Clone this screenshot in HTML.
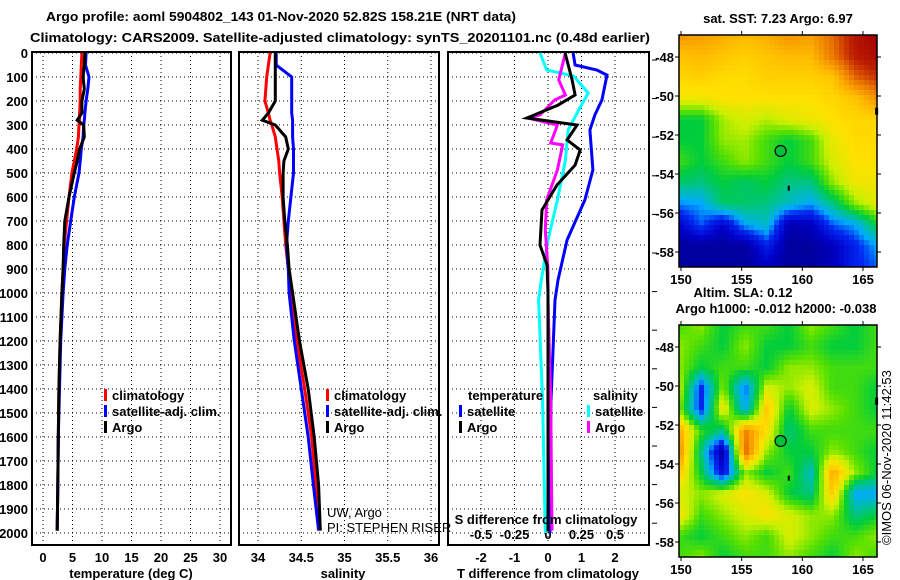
<!DOCTYPE html>
<html><head><meta charset="utf-8">
<style>
html,body{margin:0;padding:0;background:#fff;}
svg{display:block;font-family:"Liberation Sans",Arial,sans-serif;}
.b{font-weight:bold;font-size:13px;}
</style></head>
<body>
<svg id="chart" width="900" height="580" viewBox="0 0 900 580">
<g id="gridL"></g>
<g id="series"></g>
<g id="maps"></g>
<g id="texts">
<text x="46" y="21" class="b" font-size="15" textLength="470" lengthAdjust="spacingAndGlyphs">Argo profile: aoml 5904802_143 01-Nov-2020 52.82S 158.21E (NRT data)</text>
<text x="30" y="42" class="b" font-size="15" textLength="620" lengthAdjust="spacingAndGlyphs">Climatology: CARS2009. Satellite-adjusted climatology: synTS_20201101.nc (0.48d earlier)</text>
<text x="778" y="23" class="b" text-anchor="middle">sat. SST: 7.23 Argo: 6.97</text>
<text x="743" y="297" class="b" text-anchor="middle">Altim. SLA: 0.12</text>
<text x="776" y="313" class="b" text-anchor="middle">Argo h1000: -0.012 h2000: -0.038</text>
<text x="131" y="578" class="b" text-anchor="middle">temperature (deg C)</text>
<text x="343" y="578" class="b" text-anchor="middle">salinity</text>
<text x="548" y="578" class="b" text-anchor="middle">T difference from climatology</text>
<text x="546" y="524" class="b" text-anchor="middle">S difference from climatology</text>
<text x="327" y="517" font-size="13">UW, Argo</text>
<text x="327" y="532" font-size="13">PI: STEPHEN RISER</text>
<text transform="translate(891,545) rotate(-90)" font-size="13">©IMOS 06-Nov-2020 11:42:53</text>
</g>
<g id="legends"></g>
</svg>
<script>
// ---------- data ----------
const depthTicks=[0,100,200,300,400,500,600,700,800,900,1000,1100,1200,1300,1400,1500,1600,1700,1800,1900,2000];
const tempTicks=[0,5,10,15,20,25,30];
const salTicks=[34,34.5,35,35.5,36];
const tdiffTicks=[-2,-1,0,1,2];
const sdiffTicks=[-0.5,-0.25,0,0.25,0.5];
const sdiffLabels=["-0.5","-0.25","0","0.25","0.5"];
const profDepths=[0,50,100,150,200,250,280,300,350,400,450,500,600,700,800,900,1000,1200,1400,1600,1800,1990];
const tempClim=[6.6,6.5,6.4,6.3,6.3,6.2,6.2,6.1,6.0,5.7,5.3,4.9,4.4,4.0,3.6,3.4,3.2,2.9,2.7,2.6,2.5,2.4];
const tempSat=[7.3,7.2,7.8,7.6,7.3,7.1,7.0,6.9,6.8,6.5,6.3,6.1,5.3,4.7,4.1,3.7,3.4,3.0,2.8,2.6,2.5,2.4];
const tempArgo=[7.1,7.0,6.8,7.0,6.6,6.6,5.8,6.9,7.0,6.2,5.8,5.3,4.4,3.7,3.5,3.4,3.2,2.9,2.7,2.6,2.5,2.4];
const salClim=[34.14,34.12,34.1,34.09,34.08,34.12,34.14,34.16,34.2,34.22,34.24,34.25,34.28,34.3,34.32,34.35,34.37,34.45,34.54,34.62,34.67,34.72];
const salSat=[34.21,34.21,34.39,34.39,34.39,34.39,34.4,34.4,34.4,34.41,34.41,34.41,34.38,34.35,34.33,34.35,34.36,34.42,34.5,34.58,34.64,34.7];
const salArgo=[34.2,34.2,34.2,34.2,34.2,34.12,34.05,34.2,34.32,34.35,34.3,34.29,34.29,34.31,34.34,34.36,34.4,34.48,34.58,34.65,34.7,34.72];
const diffDepthsT=[0,112,175,217,271,300,362,404,467,550,654,800,883,1000,1500,1990];
const tdiffArgo=[0.51,0.72,0.81,0.3,-0.63,0.87,0.57,0.96,0.81,0.27,-0.18,-0.24,-0.03,0.0,0.0,0.0];
const diffDepthsTS=[0,50,71,92,196,258,321,487,612,779,946,1030,1450,2000];
const tdiffSat=[0.75,0.81,1.46,1.76,1.61,1.4,1.25,1.34,1.1,0.57,0.3,0.21,0.09,0.06];
const diffDepthsSS=[0,71,96,167,237,321,446,612,779,946,1030,1450,2000];
const sdiffSat=[-0.06,-0.01,0.19,0.3,0.23,0.15,0.13,0.07,0.0,-0.05,-0.07,-0.04,-0.02];
const diffDepthsSA=[0,112,175,196,258,271,300,375,383,487,612,737,904,1030,1450,1990];
const sdiffArgo=[0.13,0.08,0.13,0.05,-0.06,-0.15,0.07,0.02,0.11,0.07,-0.01,-0.02,0.0,0.0,0.02,0.03];
const latTicks=[-48,-50,-52,-54,-56,-58];
const lonTicks=[150,155,160,165];
const sstGrid=[
[0.78,0.76,0.74,0.72,0.74,0.78,0.76,0.84,0.94,1.0],
[0.7,0.72,0.7,0.68,0.7,0.72,0.72,0.82,0.93,0.97],
[0.67,0.68,0.66,0.66,0.68,0.68,0.68,0.7,0.84,0.9],
[0.63,0.63,0.65,0.65,0.65,0.65,0.65,0.67,0.7,0.78],
[0.45,0.45,0.56,0.6,0.57,0.61,0.63,0.65,0.67,0.67],
[0.45,0.45,0.55,0.56,0.5,0.45,0.5,0.62,0.66,0.66],
[0.5,0.45,0.5,0.55,0.5,0.45,0.5,0.6,0.65,0.65],
[0.42,0.4,0.45,0.42,0.45,0.4,0.4,0.55,0.63,0.63],
[0.28,0.3,0.42,0.42,0.4,0.35,0.3,0.4,0.55,0.62],
[0.12,0.25,0.12,0.3,0.35,0.08,0.1,0.25,0.3,0.45],
[0.05,0.05,0.05,0.05,0.2,0.05,0.05,0.1,0.2,0.3],
[0.05,0.05,0.05,0.05,0.1,0.05,0.05,0.1,0.2,0.25]];
const slaGrid=[
[0.5,0.55,0.45,0.5,0.5,0.45,0.55,0.5,0.45,0.5],
[0.55,0.5,0.45,0.55,0.45,0.45,0.5,0.45,0.45,0.5],
[0.55,0.45,0.5,0.5,0.45,0.55,0.55,0.5,0.5,0.5],
[0.6,0.2,0.55,0.25,0.6,0.55,0.6,0.5,0.5,0.45],
[0.55,0.2,0.65,0.3,0.7,0.45,0.6,0.55,0.5,0.45],
[0.75,0.5,0.4,0.8,0.65,0.4,0.5,0.5,0.5,0.5],
[0.8,0.4,0.05,0.85,0.55,0.45,0.45,0.55,0.5,0.45],
[0.7,0.45,0.15,0.55,0.45,0.5,0.35,0.75,0.55,0.45],
[0.6,0.55,0.6,0.65,0.6,0.45,0.4,0.7,0.3,0.3],
[0.65,0.5,0.55,0.6,0.65,0.6,0.55,0.55,0.4,0.45],
[0.5,0.45,0.5,0.55,0.5,0.6,0.55,0.5,0.5,0.55],
[0.5,0.55,0.45,0.5,0.5,0.55,0.5,0.45,0.55,0.5]];
const argoLon=158.21, argoLat=-52.82;

// ---------- scales ----------
const NS="http://www.w3.org/2000/svg";
function mk(tag,attrs,parent){const e=document.createElementNS(NS,tag);for(const k in attrs)e.setAttribute(k,attrs[k]);parent.appendChild(e);return e;}
const yD=d=>53+d*0.24;
const xT=t=>43+t*5.9;
const xS=s=>258+(s-34)*86.5;
const xdT=t=>548+t*33.5;
const xdS=s=>548+s*134;
const PT=52,PB=545;
const panels=[{x0:32,x1:231,ticks:tempTicks,sc:xT,labels:tempTicks.map(String),name:'temperature-panel'},
{x0:239,x1:439,ticks:salTicks,sc:xS,labels:salTicks.map(String),name:'salinity-panel'},
{x0:448,x1:649,ticks:tdiffTicks,sc:xdT,labels:tdiffTicks.map(String),name:'difference-panel'}];
const G=document.getElementById('gridL');
panels.forEach(p=>{
  const g=mk('g',{},G);
  
  
  depthTicks.forEach(d=>{const l=mk('line',{x1:p.x0,x2:p.x1,y1:yD(d),y2:yD(d),stroke:'#000','stroke-width':1,'stroke-dasharray':'1 3'},g);
    });
  p.ticks.forEach((t,i)=>{const x=p.sc(t);
    const l=mk('line',{x1:x,x2:x,y1:PT,y2:PB,stroke:'#000','stroke-width':1,'stroke-dasharray':'1 3'},g);
    
    const tx=mk('text',{x:x,y:562,'text-anchor':'middle',class:'b'},g);tx.textContent=p.labels[i];
    });
  const r=mk('rect',{x:p.x0,y:PT,width:p.x1-p.x0,height:PB-PT,fill:'none',stroke:'#000','stroke-width':2},g);
  
});
depthTicks.forEach(d=>{const t=mk('text',{x:28,y:yD(d)+5,'text-anchor':'end',class:'b'},G);t.textContent=d;
  });
sdiffTicks.forEach((s,i)=>{const t=mk('text',{x:xdS(s),y:539,'text-anchor':'middle',class:'b'},G);t.textContent=sdiffLabels[i];
  });
for(let k=0;k<13;k++){const y=60+k*38.6;const l=mk('line',{x1:652,x2:657,y1:y,y2:y,stroke:'#000','stroke-width':1},G);
  }

// ---------- series ----------
const S=document.getElementById('series');
function line(depths,vals,sc,color,name){
  const pts=depths.map((d,i)=>sc(vals[i]).toFixed(1)+','+yD(d).toFixed(1)).join(' ');
  const p=mk('polyline',{points:pts,fill:'none',stroke:color,'stroke-width':3,'stroke-linejoin':'miter'},S);
  
}
line(profDepths,tempClim,xT,'#ff0000','temp-climatology-line');
line(profDepths,tempSat,xT,'#0000ff','temp-satellite-line');
line(profDepths,tempArgo,xT,'#000000','temp-argo-line');
line(profDepths,salClim,xS,'#ff0000','sal-climatology-line');
line(profDepths,salSat,xS,'#0000ff','sal-satellite-line');
line(profDepths,salArgo,xS,'#000000','sal-argo-line');
line(diffDepthsTS,tdiffSat,xdT,'#0000ff','tdiff-satellite-line');
line(diffDepthsSS,sdiffSat,xdS,'#00ffff','sdiff-satellite-line');
line(diffDepthsSA,sdiffArgo,xdS,'#ff00ff','sdiff-argo-line');
line(diffDepthsT,tdiffArgo,xdT,'#000000','tdiff-argo-line');

// ---------- legends ----------
const L=document.getElementById('legends');
function leg(x,y,color,label,name){
  const g=mk('g',{},L);
  if(color){mk('rect',{x:x,y:y-11,width:3,height:12,fill:color},g);}
  const t=mk('text',{x:x+8,y:y,class:'b'},g);t.textContent=label;
}
leg(104,400,'#ff0000','climatology','legend-entry-climatology');
leg(104,416,'#0000ff','satellite-adj. clim.','legend-entry-satellite');
leg(104,432,'#000000','Argo','legend-entry-argo');
leg(326,400,'#ff0000','climatology','legend-entry-sal-climatology');
leg(326,416,'#0000ff','satellite-adj. clim.','legend-entry-sal-satellite');
leg(326,432,'#000000','Argo','legend-entry-sal-argo');
leg(460,400,null,'temperature','legend-heading-temperature');
leg(585,400,null,'salinity','legend-heading-salinity');
leg(459,416,'#0000ff','satellite','legend-entry-tdiff-satellite');
leg(459,432,'#000000','Argo','legend-entry-tdiff-argo');
leg(587,416,'#00ffff','satellite','legend-entry-sdiff-satellite');
leg(587,432,'#ff00ff','Argo','legend-entry-sdiff-argo');

// ---------- maps ----------
const M=document.getElementById('maps');
const stops=[[0,[0,0,128]],[0.12,[0,0,200]],[0.22,[0,40,240]],[0.3,[0,170,255]],[0.37,[0,190,170]],[0.45,[0,205,60]],[0.52,[90,225,0]],[0.58,[200,240,0]],[0.65,[255,225,0]],[0.72,[255,185,0]],[0.82,[235,120,0]],[0.92,[190,30,0]],[1,[160,0,0]]];
function cmap(v){v=Math.max(0,Math.min(1,v));for(let i=1;i<stops.length;i++){if(v<=stops[i][0]){const a=stops[i-1],b=stops[i];const f=(v-a[0])/(b[0]-a[0]);
  const c=a[1].map((q,j)=>Math.round(q+(b[1][j]-q)*f));return 'rgb('+c.join(',')+')';}}return 'rgb(160,0,0)';}
function drawMap(grid,top,name){
  const X0=679,X1=877,Y0=top,Y1=top+232;
  const lonS=l=>681+(l-150)*(182/15);
  const latS=l=>Y0+22+(-48-l)*(195/10);
  const g=mk('g',{},M);
  const cs=5,R=grid.length,C=grid[0].length;
  for(let y=Y0;y<Y1;y+=cs){for(let x=X0;x<X1;x+=cs){
    const fx=(x-X0+cs/2)/(X1-X0)*(C-1),fy=(y-Y0+cs/2)/(Y1-Y0)*(R-1);
    const i=Math.min(R-2,Math.floor(fy)),j=Math.min(C-2,Math.floor(fx));const a=fy-i,b=fx-j;
    const v=grid[i][j]*(1-a)*(1-b)+grid[i][j+1]*(1-a)*b+grid[i+1][j]*a*(1-b)+grid[i+1][j+1]*a*b;
    mk('rect',{x:x,y:y,width:Math.min(cs,X1-x)+0.5,height:Math.min(cs,Y1-y)+0.5,fill:cmap(v)},g);}}
  const fr=mk('rect',{x:X0,y:Y0,width:X1-X0,height:Y1-Y0,fill:'none',stroke:'#000','stroke-width':1.5},g);
  
  latTicks.forEach(l=>{const y=latS(l);mk('line',{x1:X0-4,x2:X0,y1:y,y2:y,stroke:'#000'},g);mk('line',{x1:X1,x2:X1+4,y1:y,y2:y,stroke:'#000'},g);
    const t=mk('text',{x:674,y:y+5,'text-anchor':'end',class:'b'},g);t.textContent=l;
    });
  lonTicks.forEach(l=>{const x=lonS(l);mk('line',{x1:x,x2:x,y1:Y0-4,y2:Y0,stroke:'#000'},g);mk('line',{x1:x,x2:x,y1:Y1,y2:Y1+4,stroke:'#000'},g);
    const t=mk('text',{x:x,y:Y1+17,'text-anchor':'middle',class:'b'},g);t.textContent=l;
    });
  const c=mk('circle',{cx:lonS(argoLon),cy:latS(argoLat),r:5.5,fill:'#00c040',stroke:'#000','stroke-width':1.2},g);
  
  mk('rect',{x:lonS(158.8),y:latS(-54.6),width:2,height:5,fill:'#000'},g);
  mk('rect',{x:lonS(166),y:latS(-50.6),width:3,height:7,fill:'#000'},g);
}
drawMap(sstGrid,35,'sst-map');
drawMap(slaGrid,325,'sla-map');
</script>
</body></html>
